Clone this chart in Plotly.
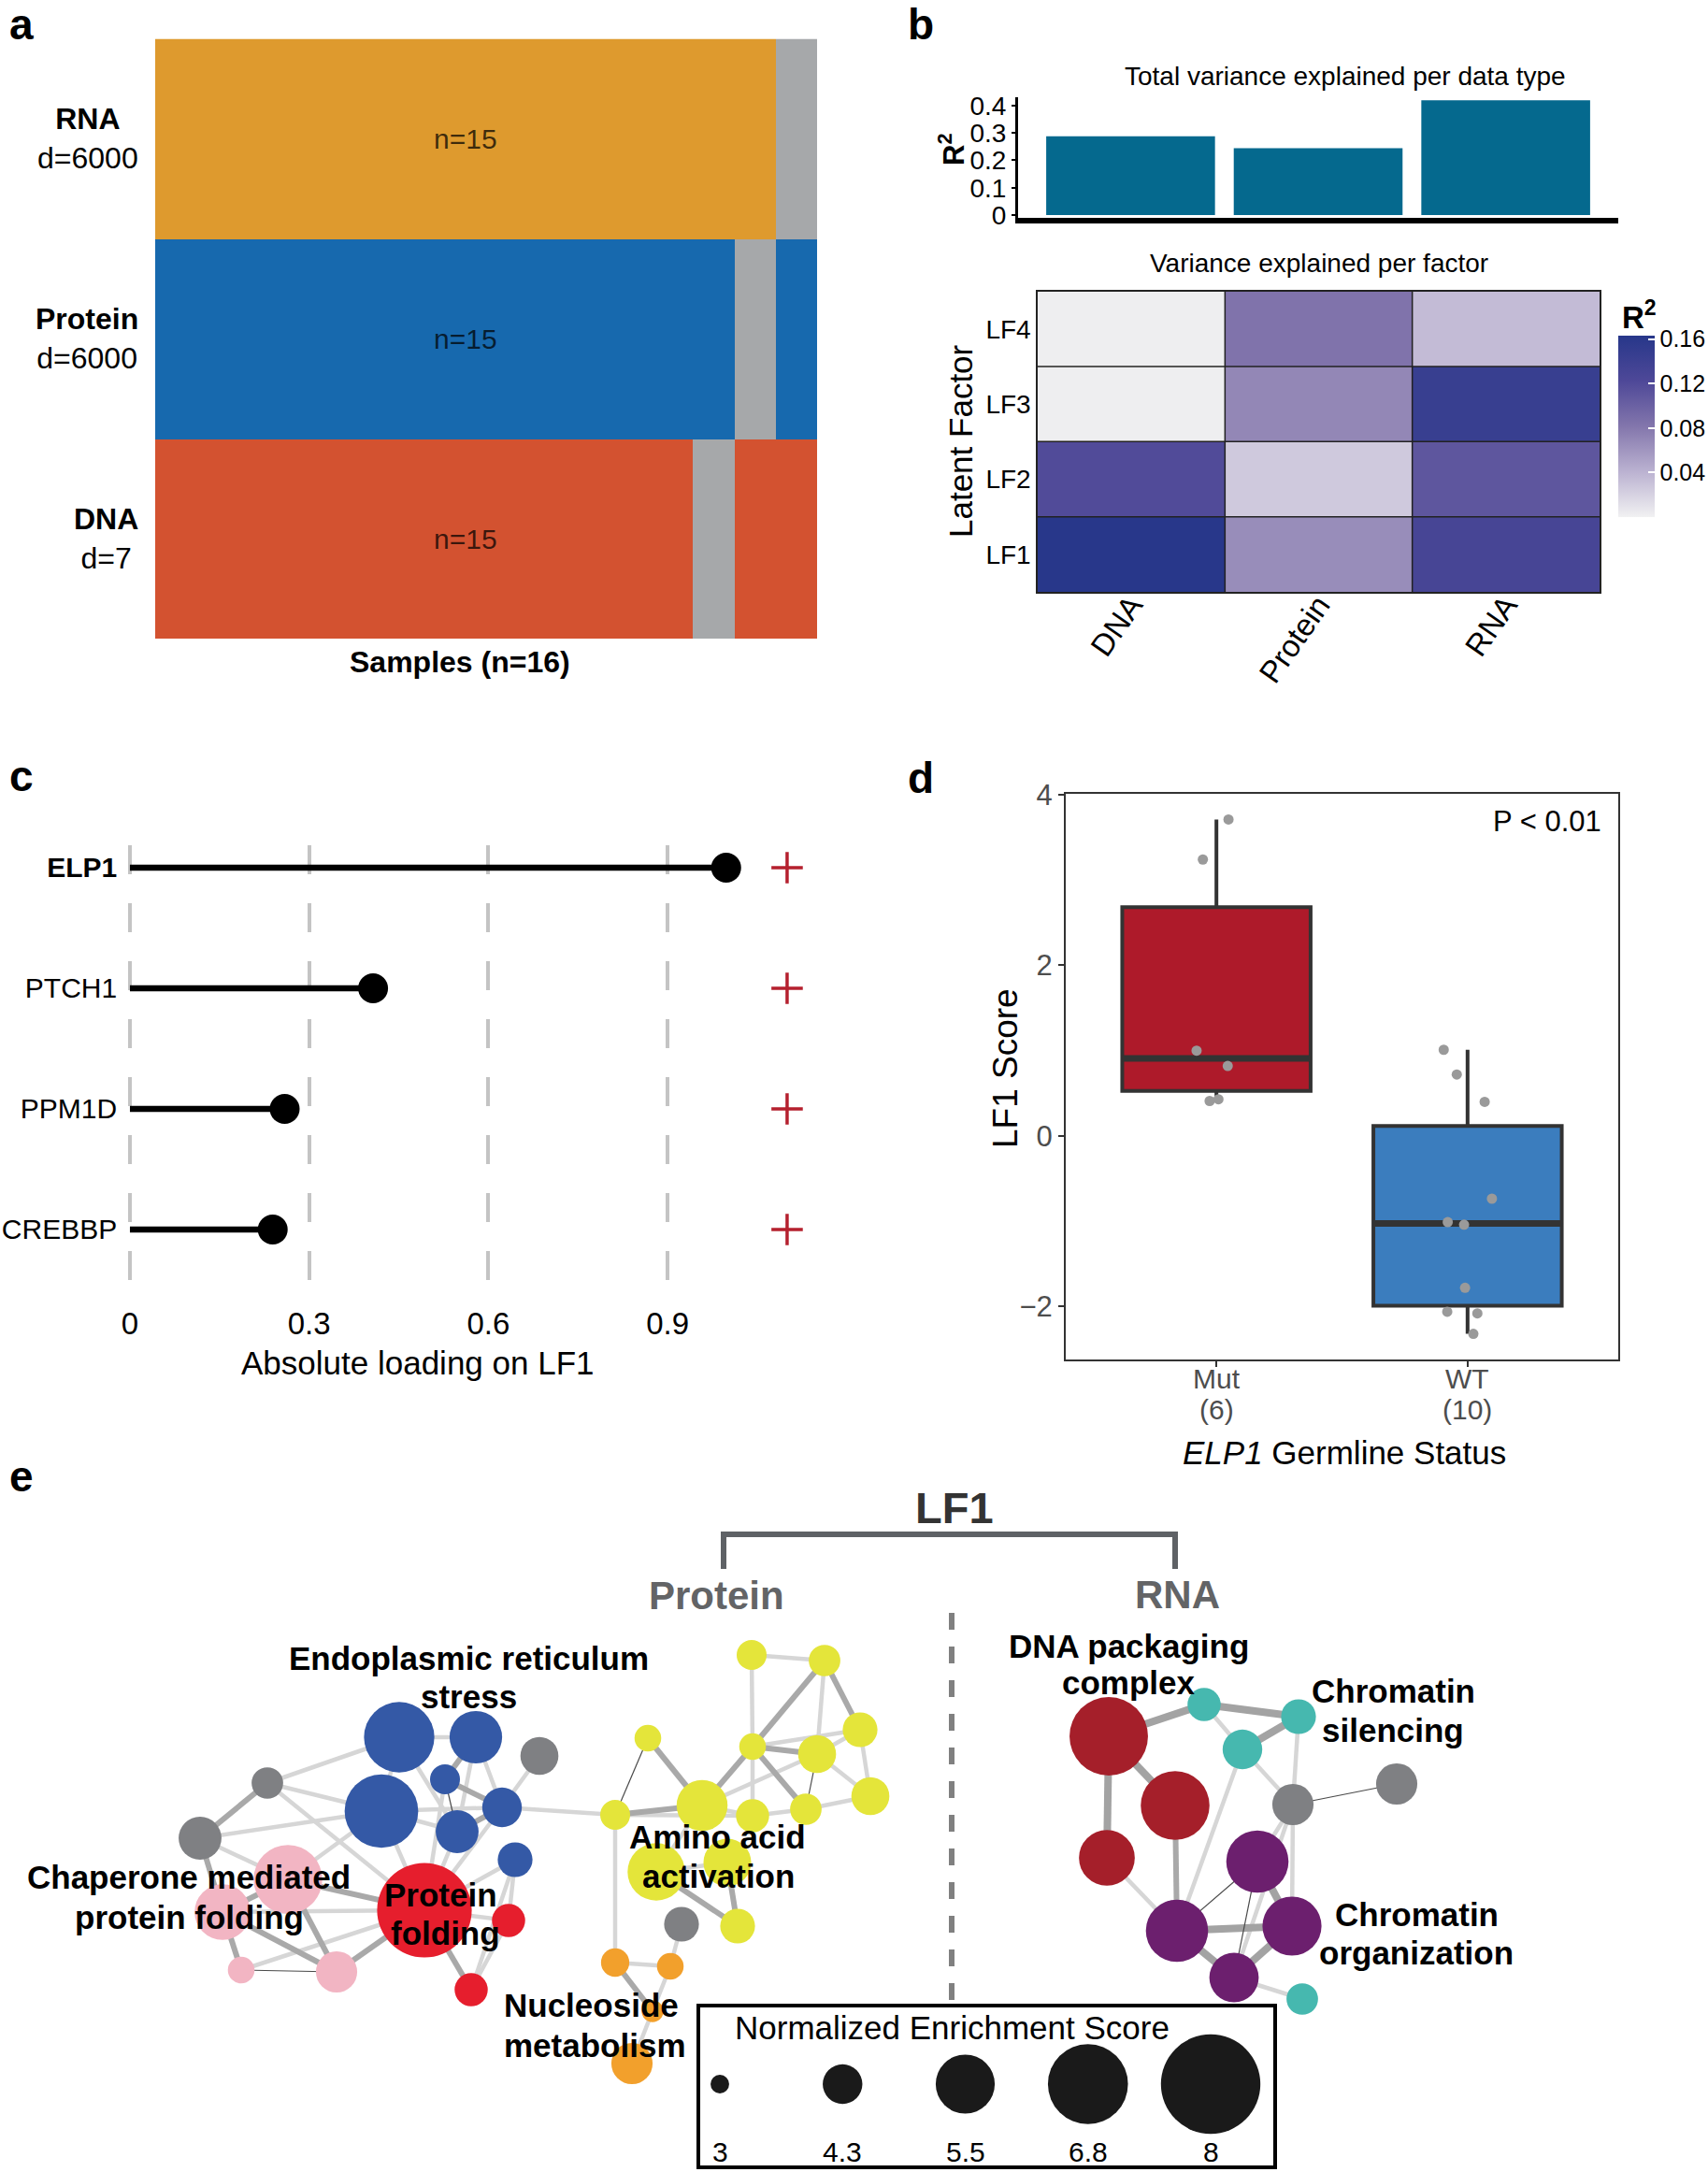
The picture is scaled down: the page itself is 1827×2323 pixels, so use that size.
import numpy as np
import plotly.graph_objects as go

W, H = 1827, 2323
FONT = "Liberation Sans"

# ======================= DATA =======================
# ---- panel a : data availability ----
a_types = ["DNA", "Protein", "RNA"]          # bottom -> top
a_dims = ["d=7", "d=6000", "d=6000"]
a_n_present = [15, 15, 15]
a_missing_sample = [14, 15, 16]              # 1-based index of the missing sample
a_n_samples = 16

# ---- panel b : variance explained ----
b_types = ["DNA", "Protein", "RNA"]
b_total_r2 = [0.288, 0.244, 0.419]
b_factors = ["LF1", "LF2", "LF3", "LF4"]
b_factor_r2 = [            # rows LF1..LF4 ; cols DNA, Protein, RNA
    [0.162, 0.066, 0.130],
    [0.120, 0.026, 0.110],
    [0.002, 0.070, 0.145],
    [0.002, 0.084, 0.035],
]
b_bar_ticks = [0, 0.1, 0.2, 0.3, 0.4]
b_cbar_ticks = [0.04, 0.08, 0.12, 0.16]

# ---- panel c : loadings ----
c_genes = ["ELP1", "PTCH1", "PPM1D", "CREBBP"]
c_loading = [0.998, 0.407, 0.259, 0.239]
c_sign = ["+", "+", "+", "+"]
c_sign_pos = 1.10
c_ticks = [0, 0.3, 0.6, 0.9]

# ---- panel d : LF1 score by germline status ----
d_groups = ["Mut", "WT"]
d_group_n = [6, 10]
d_mut_scores = [3.71, 3.24, 1.00, 0.82, 0.43, 0.41]
d_mut_jitter = [0.048, -0.054, -0.079, 0.045, 0.008, -0.027]
d_wt_scores = [1.01, 0.72, 0.40, -0.735, -1.01, -1.04, -1.78, -2.06, -2.08, -2.32]
d_wt_jitter = [-0.095, -0.043, 0.068, 0.097, -0.079, -0.014, -0.010, -0.081, 0.039, 0.023]
d_yticks = [-2, 0, 2, 4]

# ---- panel e : enrichment network (layout) ----
e_node_id = ["B1", "B2", "B3", "B4", "B5", "B6", "B7", "G1", "G2", "G3",
             "P1", "P2", "P3", "P4", "R1", "R2", "R3",
             "Y1", "Y2", "Y3", "Y4", "Y5", "Y6", "Y7", "Y8", "Y9", "Y10", "Y11", "Y12", "Y13", "Y14",
             "G4", "O1", "O2", "O3", "O4",
             "D1", "D2", "D3", "T1", "T2", "T3", "T4", "G5", "G6", "U1", "U2", "U3", "U4"]
e_node_x = [427, 509, 408, 476, 537, 489, 551, 577, 286, 214,
            308, 238, 258, 360, 454, 544, 504,
            804, 882, 920, 805, 874, 693, 751, 805, 862, 931, 658, 702, 778, 789,
            729, 658, 717, 698, 676,
            1186, 1257, 1184, 1288, 1389, 1329, 1393, 1383, 1494, 1345, 1259, 1382, 1320]
e_node_y = [1858, 1858, 1937, 1903, 1933, 1959, 1989, 1878, 1907, 1966,
            2010, 2045, 2107, 2109, 2043, 2054, 2128,
            1770, 1776, 1850, 1868, 1876, 1859, 1931, 1942, 1935, 1921, 1941, 2002, 1992, 2060,
            2058, 2099, 2103, 2151, 2207,
            1857, 1931, 1987, 1823, 1836, 1871, 2138, 1930, 1908, 1991, 2065, 2060, 2115]
e_node_nes = [6.2, 5.1, 6.4, 3.7, 4.3, 4.5, 4.0, 4.2, 3.8, 4.5,
              6.1, 5.3, 3.5, 4.4, 7.7, 3.9, 3.9,
              3.7, 3.8, 4.0, 3.5, 4.2, 3.5, 5.0, 3.9, 3.8, 4.2, 3.7, 5.4, 4.8, 4.0,
              4.0, 3.6, 3.5, 3.2, 4.4,
              6.7, 6.1, 5.3, 3.9, 4.0, 4.3, 3.8, 4.4, 4.4, 5.7, 5.7, 5.5, 4.9]
e_node_group = ["er"] * 7 + ["other"] * 3 + ["chap"] * 4 + ["fold"] * 3 + ["amino"] * 14 + \
               ["other"] + ["nucl"] * 4 + ["dnapack"] * 3 + ["silenc"] * 4 + ["other"] * 2 + ["chromorg"] * 4

e_edges_light = [("B1", "B2"), ("B1", "B3"), ("B2", "B6"), ("B2", "B5"), ("B1", "B6"), ("B3", "B6"),
                 ("B3", "B5"), ("G1", "B5"), ("G2", "B1"), ("G2", "B3"), ("G2", "R1"), ("G3", "B3"),
                 ("G3", "P1"), ("P1", "B3"), ("P2", "R1"), ("P3", "R1"), ("B3", "R1"), ("B6", "R1"),
                 ("B7", "R1"), ("B5", "R1"), ("B4", "R1"), ("R1", "R2"), ("R2", "R3"), ("B7", "R3"),
                 ("B7", "R2"), ("B5", "Y11"), ("Y11", "O1"), ("G4", "O2"), ("O1", "O2"), ("O2", "O3"),
                 ("O3", "O4"), ("Y1", "Y2"), ("Y1", "Y4"), ("Y2", "Y5"), ("Y4", "Y3"), ("Y5", "Y3"),
                 ("Y5", "Y7"), ("Y5", "Y10"), ("Y3", "Y10"), ("Y9", "Y10"), ("Y8", "Y9"), ("Y7", "Y8"),
                 ("Y4", "Y8"), ("Y11", "Y8"), ("Y12", "Y7"), ("Y12", "Y13"),
                 ("D3", "U2"), ("T1", "T3"), ("T2", "G5"), ("T3", "G5"), ("T3", "U2"), ("G5", "U1"),
                 ("G5", "U3"), ("G5", "U4"), ("U4", "T4")]
e_edges_mid = [("G2", "G3"), ("B4", "B5"), ("B5", "B6"), ("B2", "B4"), ("P1", "R1"), ("P1", "P4"),
               ("P2", "P4"), ("P2", "P3"), ("P4", "R1"), ("R1", "R3"), ("G3", "P2"), ("P1", "P2"),
               ("O1", "O3"), ("Y2", "Y4"), ("Y2", "Y3"), ("Y4", "Y5"), ("Y4", "Y7"), ("Y4", "Y9"),
               ("Y6", "Y7"), ("Y7", "Y11"), ("Y12", "Y14"), ("Y13", "Y14"), ("D2", "U2")]
e_edges_thick = [("D1", "D2"), ("D1", "D3"), ("D1", "T1"), ("T1", "T2"), ("T2", "T3"),
                 ("U1", "U3"), ("U2", "U3"), ("U2", "U4"), ("U3", "U4")]
e_edges_thin = [("B4", "B6"), ("P3", "P4"), ("Y6", "Y11"), ("Y5", "Y9"), ("G5", "G6"),
                ("U1", "U2"), ("U1", "U4")]

e_labels = [
    ("Endoplasmic reticulum", 501, 1773), ("stress", 501, 1814),
    ("Chaperone mediated", 202, 2007), ("protein folding", 202, 2050),
    ("Protein", 471, 2026), ("folding", 476, 2067),
    ("Amino acid", 767, 1964), ("activation", 768, 2006),
    ("Nucleoside", 632, 2144), ("metabolism", 636, 2187),
    ("DNA packaging", 1207, 1760), ("complex", 1207, 1799),
    ("Chromatin", 1490, 1808), ("silencing", 1490, 1850),
    ("Chromatin", 1515, 2047), ("organization", 1515, 2088),
]
e_legend_nes = [3, 4.3, 5.5, 6.8, 8]

# ======================= STYLE =======================
A_COL = {"missing": "#A6A8AA", "DNA": "#D35230", "Protein": "#1769AE", "RNA": "#DE9A2E"}
E_COL = {"er": "#3459A6", "other": "#7F8083", "chap": "#F2B5C3", "fold": "#E61E2D",
         "amino": "#E4E53A", "nucl": "#F2A02C", "dnapack": "#A51F2A", "silenc": "#46B8AF",
         "chromorg": "#6C1F6E"}


def xdom(x0, x1):
    return [x0 / W, x1 / W]


def ydom(y0, y1):
    return [1 - y1 / H, 1 - y0 / H]


def nes_to_px(v):
    return 17.3 * np.asarray(v, dtype=float) - 32.0


annotations = []


def ann(text, x, y, size, color="black", xanchor="center", yanchor="middle",
        xref="x6", yref="y6", angle=0):
    annotations.append(dict(text=text, x=x, y=y, xref=xref, yref=yref, showarrow=False,
                            xanchor=xanchor, yanchor=yanchor, textangle=angle,
                            font=dict(family=FONT, size=size, color=color)))


fig = go.Figure()

# ======================= PANEL A =======================
a_code = {t: i + 1 for i, t in enumerate(a_types)}
z_a = [[a_code[t] if s != miss else 0 for s in range(1, a_n_samples + 1)]
       for t, miss in zip(a_types, a_missing_sample)]
cs_a = [[0, A_COL["missing"]], [1 / 6, A_COL["missing"]],
        [1 / 6, A_COL["DNA"]], [0.5, A_COL["DNA"]],
        [0.5, A_COL["Protein"]], [5 / 6, A_COL["Protein"]],
        [5 / 6, A_COL["RNA"]], [1, A_COL["RNA"]]]
fig.add_trace(go.Heatmap(z=z_a, x=list(range(a_n_samples)), y=list(range(len(a_types))),
                         zmin=0, zmax=3, colorscale=cs_a, showscale=False,
                         hoverinfo="skip", xaxis="x", yaxis="y"))
for i, (t, d, n) in enumerate(zip(a_types, a_dims, a_n_present)):
    ann(f"<b>{t}</b><br>{d}", 150, i, 32, xanchor="right", yref="y")
    ann(f"n={n}", (n - 1) / 2, i, 30, color="rgba(0,0,0,0.72)", xref="x", yref="y")
ann(f"<b>Samples (n={a_n_samples})</b>", 492, 708, 32)

# ======================= PANEL B =======================
fig.add_trace(go.Bar(x=list(range(len(b_types))), y=b_total_r2, width=0.9,
                     marker=dict(color="#05698E", line=dict(width=0)),
                     hoverinfo="skip", xaxis="x2", yaxis="y2"))
cs_b = [[0, "#F1F1F2"], [0.25, "#BBB2D1"], [0.5, "#8376AC"], [0.75, "#4E4898"], [1, "#27378A"]]
fig.add_trace(go.Heatmap(
    z=b_factor_r2, x=list(range(len(b_types))), y=list(range(len(b_factors))),
    zmin=0, zmax=0.163, colorscale=cs_b, hoverinfo="skip", xaxis="x3", yaxis="y3",
    colorbar=dict(x=1731 / W, xanchor="left", xpad=0, y=1 - 456 / H, yanchor="middle", ypad=0,
                  len=194, lenmode="pixels", thickness=39, thicknessmode="pixels",
                  tickvals=b_cbar_ticks, ticktext=[f"{t:.2f}" for t in b_cbar_ticks],
                  ticks="inside", ticklen=7, tickwidth=2, tickcolor="white",
                  tickfont=dict(family=FONT, size=25, color="black"), outlinewidth=0)))
ann("<b>R<sup>2</sup></b>", 1753, 337, 33)
ann("Total variance explained per data type", 1439, 81, 28)
ann("<b>R<sup>2</sup></b>", 1018, 160, 31, angle=-90)
ann("Variance explained per factor", 1411, 281, 28)
ann("Latent Factor", 1027, 472, 35, angle=-90)

shapes = []
for k in range(1, len(b_types)):
    shapes.append(dict(type="line", xref="x3", yref="y3", x0=k - 0.5, x1=k - 0.5,
                       y0=-0.5, y1=len(b_factors) - 0.5, line=dict(color="#222222", width=1.5)))
for k in range(1, len(b_factors)):
    shapes.append(dict(type="line", xref="x3", yref="y3", y0=k - 0.5, y1=k - 0.5,
                       x0=-0.5, x1=len(b_types) - 0.5, line=dict(color="#222222", width=1.5)))

# ======================= PANEL C =======================
c_rows = [len(c_genes) - i for i in range(len(c_genes))]
lx, ly = [], []
for v, r in zip(c_loading, c_rows):
    lx += [0, v, None]
    ly += [r, r, None]
fig.add_trace(go.Scatter(x=lx, y=ly, mode="lines", line=dict(color="black", width=6.5),
                         hoverinfo="skip", xaxis="x4", yaxis="y4"))
fig.add_trace(go.Scatter(x=c_loading, y=c_rows, mode="markers",
                         marker=dict(color="black", size=32, opacity=1, line=dict(width=0)),
                         hoverinfo="skip", xaxis="x4", yaxis="y4"))
fig.add_trace(go.Scatter(x=[c_sign_pos] * len(c_sign), y=c_rows, mode="markers",
                         marker=dict(symbol="cross-thin", size=24, opacity=1,
                                     line=dict(color="#B5202E", width=3.5)),
                         hoverinfo="skip", xaxis="x4", yaxis="y4"))
ann("Absolute loading on LF1", 447, 1457, 35)

# ======================= PANEL D =======================
D_COL = ["#AE1A2A", "#3B7DBE"]
for gi, (scores, jit, col) in enumerate(zip([d_mut_scores, d_wt_scores],
                                             [d_mut_jitter, d_wt_jitter], D_COL)):
    s = np.array(scores)
    q1, med, q3 = np.percentile(s, [25, 50, 75])
    iqr = q3 - q1
    lo = s[s >= q1 - 1.5 * iqr].min()
    hi = s[s <= q3 + 1.5 * iqr].max()
    fig.add_trace(go.Box(x=[gi], q1=[q1], median=[med], q3=[q3], lowerfence=[lo], upperfence=[hi],
                         fillcolor=col, line=dict(color="#333333", width=4), width=0.75,
                         whiskerwidth=0, boxpoints=False, hoverinfo="skip",
                         xaxis="x5", yaxis="y5"))
    fig.add_trace(go.Scatter(x=[gi - 0.375, gi + 0.375], y=[med, med], mode="lines",
                             line=dict(color="#333333", width=7), hoverinfo="skip",
                             xaxis="x5", yaxis="y5"))
    fig.add_trace(go.Scatter(x=gi + np.array(jit), y=s, mode="markers",
                             marker=dict(size=11, color="#9A9A9A", opacity=1, line=dict(width=0)),
                             hoverinfo="skip", xaxis="x5", yaxis="y5"))
for gi, (g, n) in enumerate(zip(d_groups, d_group_n)):
    ann(g, gi, 1474, 30, color="#4D4D4D", xref="x5")
    ann(f"({n})", gi, 1507, 30, color="#4D4D4D", xref="x5")
ann("LF1 Score", 1075, 1143, 37, angle=-90)
ann("P < 0.01", 1715, 878, 31, xanchor="right")
ann("<i>ELP1</i> Germline Status", 1438, 1553, 35)

# ======================= PANEL E =======================
pos = {n: (x, y) for n, x, y in zip(e_node_id, e_node_x, e_node_y)}
for edges, col, wid in [(e_edges_light, "#D6D6D6", 4.5), (e_edges_mid, "#A9A9A9", 6),
                        (e_edges_thick, "#A3A3A3", 8), (e_edges_thin, "#4A4A4A", 1.2)]:
    ex, ey = [], []
    for a, b in edges:
        ex += [pos[a][0], pos[b][0], None]
        ey += [pos[a][1], pos[b][1], None]
    fig.add_trace(go.Scatter(x=ex, y=ey, mode="lines", line=dict(color=col, width=wid),
                             hoverinfo="skip", xaxis="x6", yaxis="y6"))
fig.add_trace(go.Scatter(x=e_node_x, y=e_node_y, mode="markers",
                         marker=dict(size=nes_to_px(e_node_nes),
                                     color=[E_COL[g] for g in e_node_group], line=dict(width=0),
                                     opacity=1),
                         hoverinfo="skip", xaxis="x6", yaxis="y6"))
for t, x, y in e_labels:
    ann(f"<b>{t}</b>", x, y, 35)

# header + bracket
ann("<b>LF1</b>", 1021, 1612, 47, color="#333333")
ann("<b>Protein</b>", 766, 1706, 42, color="#636466")
ann("<b>RNA</b>", 1259, 1705, 42, color="#636466")
shapes.append(dict(type="path", xref="x6", yref="y6",
                   path="M 774 1678 L 774 1641 L 1257 1641 L 1257 1678",
                   line=dict(color="#5F6266", width=6)))
shapes.append(dict(type="line", xref="x6", yref="y6", x0=1018, x1=1018, y0=1725, y1=2143,
                   line=dict(color="#808080", width=6, dash="18px,18px")))
# size legend
shapes.append(dict(type="rect", xref="x6", yref="y6", x0=747, x1=1364, y0=2145, y1=2318,
                   line=dict(color="black", width=4), fillcolor="rgba(0,0,0,0)"))
ann("Normalized Enrichment Score", 1018, 2168, 35)
leg_x = [770 + i * 131.25 for i in range(len(e_legend_nes))]
fig.add_trace(go.Scatter(x=leg_x, y=[2229] * len(e_legend_nes), mode="markers",
                         marker=dict(size=nes_to_px(e_legend_nes), color="#1A1A1A", opacity=1,
                                     line=dict(width=0)),
                         hoverinfo="skip", xaxis="x6", yaxis="y6"))
for v, x in zip(e_legend_nes, leg_x):
    ann(f"{v:g}", x, 2301, 30)

# panel letters
for letter, x, y in [("a", 23, 26), ("b", 985, 26), ("c", 23, 830), ("d", 985, 832), ("e", 23, 1579)]:
    ann(f"<b>{letter}</b>", x, y, 46, xanchor="center")

# ======================= LAYOUT =======================
tick_font = dict(family=FONT, color="black")
fig.update_layout(
    width=W, height=H, margin=dict(l=0, r=0, t=0, b=0, pad=0, autoexpand=False),
    paper_bgcolor="white", plot_bgcolor="rgba(0,0,0,0)", showlegend=False,
    font=dict(family=FONT, color="black"),
    xaxis=dict(domain=xdom(166, 874), range=[-0.5, a_n_samples - 0.5], visible=False, anchor="y"),
    yaxis=dict(domain=ydom(41.5, 683), range=[-0.5, len(a_types) - 0.5], visible=False, anchor="x"),
    xaxis2=dict(domain=xdom(1089, 1731), range=[-0.6, 2.6], showline=True, linewidth=6,
                linecolor="black", showticklabels=False, ticks="", showgrid=False,
                zeroline=False, anchor="y2"),
    yaxis2=dict(domain=ydom(104, 233), range=[-0.01, 0.43], showline=True, linewidth=3,
                linecolor="black", ticks="outside", ticklen=4, tickwidth=2, tickcolor="black",
                tickvals=b_bar_ticks, ticktext=[f"{t:g}" for t in b_bar_ticks],
                tickfont=dict(size=28, **tick_font), showgrid=False, zeroline=False, anchor="x2"),
    xaxis3=dict(domain=xdom(1110, 1711), range=[-0.5, len(b_types) - 0.5],
                tickvals=list(range(len(b_types))), ticktext=b_types, tickangle=-55,
                tickfont=dict(size=33, **tick_font), showline=True, mirror=True,
                linecolor="#222222", linewidth=1.5, ticks="", showgrid=False, zeroline=False,
                ticklabelstandoff=-20, anchor="y3"),
    yaxis3=dict(domain=ydom(311.5, 633), range=[-0.5, len(b_factors) - 0.5],
                tickvals=list(range(len(b_factors))), ticktext=b_factors,
                tickfont=dict(size=28, **tick_font), showline=True, mirror=True,
                linecolor="#222222", linewidth=1.5, ticks="", showgrid=False, zeroline=False,
                anchor="x3"),
    xaxis4=dict(domain=xdom(126.2, 873.9), range=[-0.02, 1.15], tickvals=c_ticks,
                ticktext=[f"{t:g}" for t in c_ticks], showgrid=True, gridcolor="#C4C4C4",
                gridwidth=4, griddash="31px,31px", zeroline=False, showline=False, ticks="",
                tickfont=dict(size=33, **tick_font), anchor="y4"),
    yaxis4=dict(domain=ydom(904, 1393), range=[0.395, 4.186], tickvals=c_rows,
                ticktext=[f"<b>{g}</b>" if i == 0 else g for i, g in enumerate(c_genes)],
                showgrid=False, zeroline=False, showline=False, ticks="",
                tickfont=dict(size=30, **tick_font), anchor="x4"),
    xaxis5=dict(domain=xdom(1140, 1731), range=[-0.6, 1.6], tickvals=[0, 1],
                showticklabels=False, ticks="outside", ticklen=6, tickwidth=2,
                tickcolor="#333333", showline=True, mirror=True, linecolor="#333333",
                linewidth=2, showgrid=False, zeroline=False, anchor="y5"),
    yaxis5=dict(domain=ydom(849, 1454), range=[-2.62, 4.01], tickvals=d_yticks,
                ticktext=[str(t).replace("-", "\u2212") for t in d_yticks],
                ticks="outside", ticklen=6, tickwidth=2, tickcolor="#333333",
                tickfont=dict(family=FONT, size=31, color="#4D4D4D"), showline=True,
                mirror=True, linecolor="#333333", linewidth=2, showgrid=False,
                zeroline=False, anchor="x5"),
    xaxis6=dict(domain=[0, 1], range=[0, W], visible=False, anchor="y6"),
    yaxis6=dict(domain=[0, 1], range=[H, 0], visible=False, anchor="x6"),
    annotations=annotations, shapes=shapes,
)

fig.write_html("out.html", config={"displayModeBar": False, "responsive": False},
               post_script="document.body.style.margin='0';document.body.style.padding='0';"
                           "document.documentElement.style.overflow='hidden';")
